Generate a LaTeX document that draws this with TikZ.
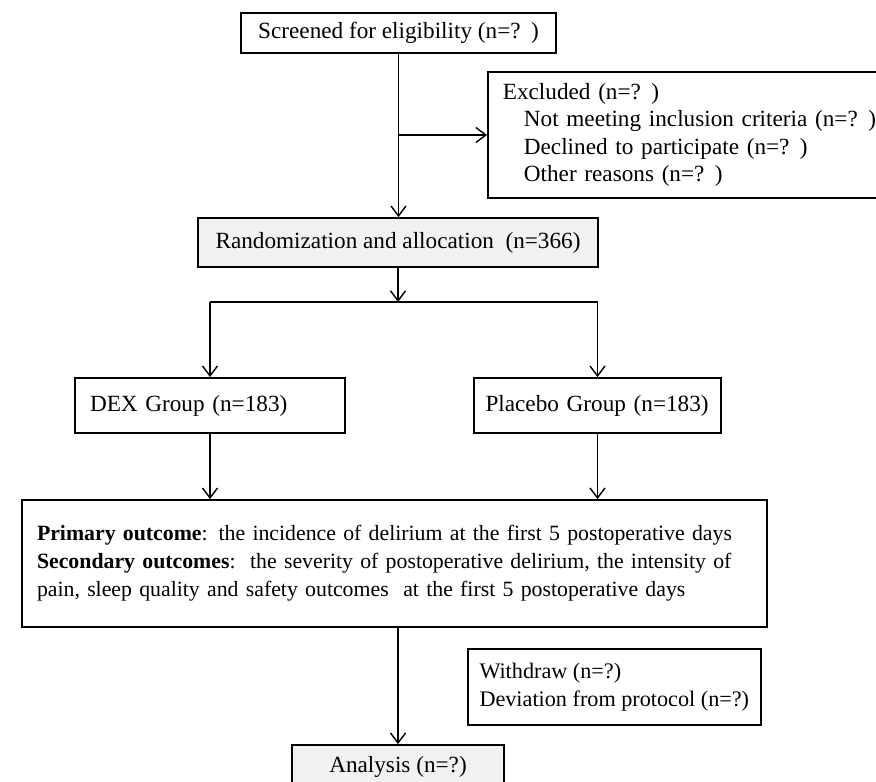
\documentclass[tikz,border=0pt]{standalone}
\usepackage{fontspec}
\setmainfont{Liberation Serif}
\usetikzlibrary{arrows.meta, positioning, calc}
\definecolor{boxgray}{RGB}{241,241,241}

\begin{document}
\begin{tikzpicture}[x=0.5pt, y=-0.5pt,
  box/.style={draw, line width=0.9pt, inner xsep=7.5pt, inner ysep=0pt,
    font=\fontsize{11.6}{13.6}\selectfont},
  graybox/.style={box, fill=boxgray},
  arr/.style={-{Straight Barb[length=5pt, width=7.5pt]}, line width=0.7pt}]
  \useasboundingbox (0,0) rectangle (876,781);

  % Screening
  \node[box, minimum width=157.5pt, minimum height=20pt] (screen) at (398.5,33)
    {Screened for eligibility (n=?\hspace{0.45em})};
  \node[box, text width=200pt, minimum height=63pt, align=left, anchor=west] (excl) at (487,135)
    {Excluded (n=?\hspace{0.45em})\\
     \hspace*{10.5pt}Not meeting inclusion criteria (n=?\hspace{0.45em})\\
     \hspace*{10.5pt}Declined to participate (n=?\hspace{0.45em})\\
     \hspace*{10.5pt}Other reasons (n=?\hspace{0.45em})};

  % Randomization
  \node[graybox, minimum width=200pt, minimum height=24.5pt] (rand) at (398,242.5)
    {Randomization and allocation\ \ (n=366)};
  \coordinate (fork) at (398,302);

  % Groups
  \node[box, text width=120pt, minimum height=27.5pt, align=left] (dex) at (210,405.5)
    {DEX Group (n=183)};
  \node[box, inner xsep=5.75pt, text width=112pt, minimum height=27.5pt, align=left] (plac) at (597.5,405.5)
    {Placebo Group (n=183)};

  % Outcomes
  \node[box, text width=357.5pt, minimum height=63.5pt, align=left,
    font=\fontsize{10.9}{14}\selectfont] (outc) at (394.5,563.5)
    {\textbf{Primary outcome}: the incidence of delirium at the first 5 postoperative days\\
     \textbf{Secondary outcomes}:\ \ the severity of postoperative delirium, the intensity of\\
     pain, sleep quality and safety outcomes\ \ at the first 5 postoperative days};
  \node[box, inner xsep=5.8pt, minimum height=38pt, align=left, anchor=west,
    font=\fontsize{11.1}{13.9}\selectfont] (wdraw) at (467,687)
    {Withdraw (n=?)\\Deviation from protocol (n=?)};
  \node[graybox, minimum width=106pt, minimum height=22pt] (anal) at (398,767)
    {Analysis (n=?)};

  % Connectors
  \draw[arr] (screen.south) -- (screen.south |- rand.north);
  \draw[arr] (screen.south |- excl.west) -- (excl.west);
  \draw[arr] (rand.south) -- (fork);
  \draw[line width=0.7pt] (dex.north |- fork) -- (plac.north |- fork);
  \draw[arr] (dex.north |- fork) -- (dex.north);
  \draw[arr] (plac.north |- fork) -- (plac.north);
  \draw[arr] (dex.south) -- (dex.south |- outc.north);
  \draw[arr] (plac.south) -- (plac.south |- outc.north);
  \draw[arr] (anal.north |- outc.south) -- (anal.north);
\end{tikzpicture}
\end{document}
